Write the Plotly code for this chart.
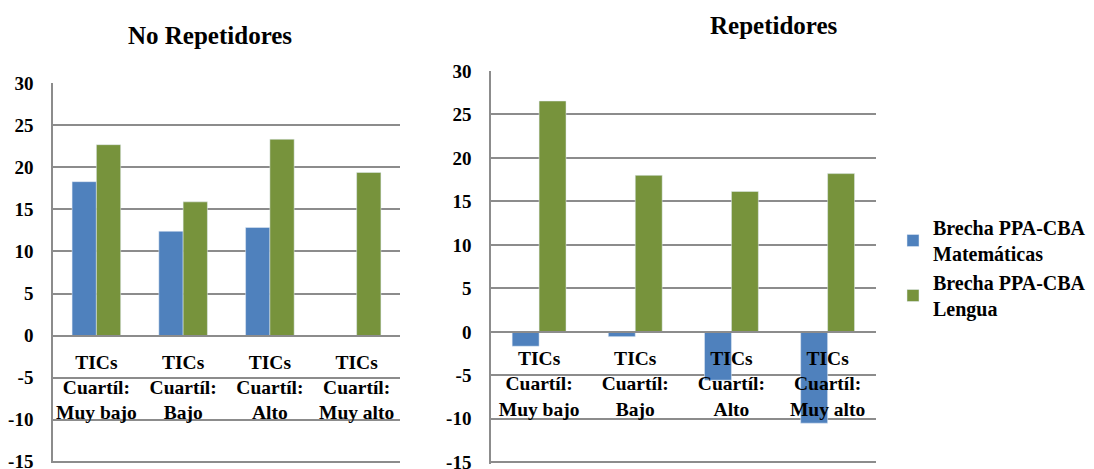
import plotly.graph_objects as go

categories = ["TICs<br>Cuartíl:<br>Muy bajo", "TICs<br>Cuartíl:<br>Bajo",
              "TICs<br>Cuartíl:<br>Alto", "TICs<br>Cuartíl:<br>Muy alto"]
series_names = ["Brecha PPA-CBA<br>Matemáticas", "Brecha PPA-CBA<br>Lengua"]

no_rep_mat = [18.3, 12.4, 12.85, None]
no_rep_len = [22.7, 15.9, 23.35, 19.4]
rep_mat = [-1.65, -0.55, -5.55, -10.5]
rep_len = [26.55, 18.0, 16.15, 18.2]

y_ticks = [-15, -10, -5, 0, 5, 10, 15, 20, 25, 30]
y_tick_labels = ["-15", "-10", "-5", "0", "5", "10", "15", "20", "25", "30"]
y_range = [-15, 30]

titles = ["No Repetidores", "Repetidores"]

BLUE = "#4F81BD"
GREEN = "#77933C"
GRID = "#8C8C8C"
FONT = "Liberation Serif, Times New Roman, serif"

W, H = 1094, 469
# plot areas in pixels (left, right, y-pixel of top tick, y-pixel of bottom tick)
areas = [(53, 400, 83.3, 461.7), (491, 875.7, 71, 462.3)]
PAD = 0.2  # small extra range below the lowest tick so its gridline is drawn

fig = go.Figure()

data = [(no_rep_mat, no_rep_len), (rep_mat, rep_len)]
for i, (mat, len_) in enumerate(data):
    xa = "x" if i == 0 else "x2"
    ya = "y" if i == 0 else "y2"
    fig.add_trace(go.Bar(x=categories, y=mat, name=series_names[0], marker_color=BLUE,
                         xaxis=xa, yaxis=ya, showlegend=(i == 0), legendgroup="m"))
    fig.add_trace(go.Bar(x=categories, y=len_, name=series_names[1], marker_color=GREEN,
                         xaxis=xa, yaxis=ya, showlegend=(i == 0), legendgroup="l"))

layout = dict(
    width=W, height=H,
    margin=dict(l=0, r=0, t=0, b=0, autoexpand=False),
    paper_bgcolor="white", plot_bgcolor="white",
    barmode="group", bargap=0.44, bargroupgap=0,
    font=dict(family=FONT, size=19, color="black", weight="bold"),
    legend=dict(x=(933 - 40) / W, xanchor="left", y=1 - 268 / H, yanchor="middle",
                font=dict(family=FONT, size=20, color="black", weight="bold"),
                traceorder="normal", tracegroupgap=16, bgcolor="rgba(0,0,0,0)"),
)

for i, (l, r, t, b) in enumerate(areas):
    suffix = "" if i == 0 else "2"
    span = y_range[1] - y_range[0]
    pxu = (b - t) / span
    rng = [y_range[0] - PAD, y_range[1]]
    b2 = b + PAD * pxu
    ydom = [1 - b2 / H, 1 - t / H]
    xpos = ydom[0] + (0 - rng[0]) / (rng[1] - rng[0]) * (ydom[1] - ydom[0])
    layout["xaxis" + suffix] = dict(
        domain=[l / W, r / W], anchor="free", position=xpos,
        showline=True, linecolor=GRID, linewidth=1.5, showgrid=False,
        ticks="", ticklabelstandoff=9, automargin=False, ticklabeloverflow="allow",
        tickfont=dict(family=FONT, size=19.5, color="black", weight="bold"),
        fixedrange=True,
    )
    layout["yaxis" + suffix] = dict(
        domain=ydom, anchor="x" + suffix, range=rng,
        tickvals=y_ticks, ticktext=y_tick_labels,
        showgrid=True, gridcolor=GRID, gridwidth=1.5,
        zeroline=False, showline=True, linecolor=GRID, linewidth=1.5,
        ticks="", ticklabelstandoff=14, automargin=False, ticklabeloverflow="allow",
        tickfont=dict(family=FONT, size=19, color="black", weight="bold"),
        fixedrange=True,
    )

fig.update_layout(**layout)

title_pos = [(210, 35), (774, 25)]
for (tx, ty), txt in zip(title_pos, titles):
    fig.add_annotation(text=txt, x=tx / W, y=1 - ty / H, xref="paper", yref="paper",
                       showarrow=False, xanchor="center", yanchor="middle",
                       font=dict(family=FONT, size=25, color="black", weight="bold"))

fig.write_html("out.html", config={"displayModeBar": False},
               post_script="document.body.style.margin='0';")
